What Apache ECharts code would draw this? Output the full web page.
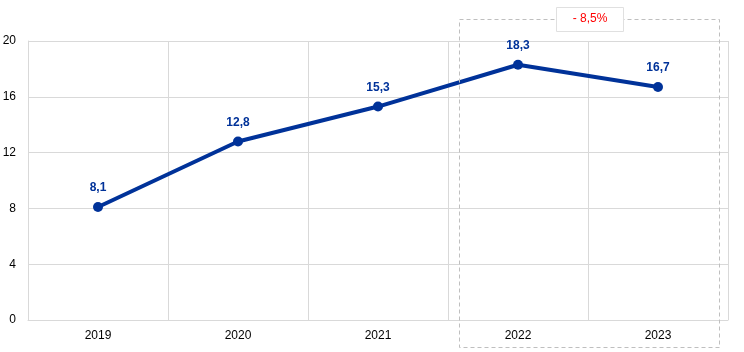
<!DOCTYPE html>
<html>
<head>
<meta charset="utf-8">
<script src="https://cdn.jsdelivr.net/npm/echarts@6/dist/echarts.min.js"></script>
<style>
  html, body { margin: 0; padding: 0; background: #fff; }
  #chart { width: 744px; height: 352px; }
</style>
</head>
<body>
<div id="chart"></div>
<script>
var years = ['2019', '2020', '2021', '2022', '2023'];
var values = [8.1, 12.8, 15.3, 18.3, 16.7];
var yTicks = [0, 4, 8, 12, 16, 20];
var changeLabel = '- 8,5%';
var boxFrom = '2022';
var boxTo = '2023';

var myChart = echarts.init(document.getElementById('chart'));

var option = {
    animation: false,
    grid: {
        left: 28,
        right: 16,
        top: 41,
        bottom: 32,
        containLabel: false,
        outerBoundsMode: 'none'
    },
    xAxis: {
        type: 'category',
        data: years,
        boundaryGap: true,
        axisLine: { lineStyle: { color: '#d9d9d9', width: 1 } },
        axisTick: { show: false },
        axisLabel: {
            color: '#000',
            fontFamily: 'Liberation Sans, Arial, sans-serif',
            fontSize: 12,
            margin: 10
        },
        splitLine: { show: true, lineStyle: { color: '#d9d9d9' } }
    },
    yAxis: {
        type: 'value',
        min: yTicks[0],
        max: yTicks[yTicks.length - 1],
        interval: 4,
        axisLine: { show: true, lineStyle: { color: '#d9d9d9' } },
        axisTick: { show: false },
        axisLabel: {
            color: '#000',
            fontFamily: 'Liberation Sans, Arial, sans-serif',
            fontSize: 12,
            margin: 12
        },
        splitLine: { lineStyle: { color: '#d9d9d9' } }
    },
    series: [
        {
            type: 'line',
            data: values,
            symbol: 'circle',
            symbolSize: 10,
            lineStyle: { color: '#003299', width: 4 },
            itemStyle: { color: '#003299' },
            label: {
                show: true,
                position: 'top',
                distance: 8,
                color: '#003299',
                fontWeight: 'bold',
                fontFamily: 'Liberation Sans, Arial, sans-serif',
                fontSize: 12,
                formatter: function (p) {
                    return p.value.toFixed(1).replace('.', ',');
                }
            }
        }
    ]
};

myChart.setOption(option);

// dashed box round the last two years, with the change label on top
var x1 = myChart.convertToPixel({ xAxisIndex: 0 }, boxFrom);
var x2 = myChart.convertToPixel({ xAxisIndex: 0 }, boxTo);
var yTop = myChart.convertToPixel({ yAxisIndex: 0 }, yTicks[yTicks.length - 1]);
var yBot = myChart.convertToPixel({ yAxisIndex: 0 }, yTicks[0]);
var left = x1 - 59, right = x2 + 61;
var mid = (left + right) / 2;

myChart.setOption({
    graphic: [
        {
            type: 'rect',
            shape: { x: left + 0.5, y: yTop - 22 + 0.5, width: right - left, height: yBot - yTop + 49 },
            style: { fill: 'none', stroke: '#bfbfbf', lineWidth: 1, lineDash: [4, 3] },
            z: 10
        },
        {
            type: 'rect',
            shape: { x: mid - 33 + 0.5, y: yTop - 34 + 0.5, width: 67, height: 24 },
            style: { fill: '#fff', stroke: '#e0e0e0', lineWidth: 1 },
            z: 11
        },
        {
            type: 'text',
            x: mid + 1,
            y: yTop - 22,
            style: {
                text: changeLabel,
                fill: '#ff0000',
                fontSize: 12,
                fontFamily: 'Liberation Sans, Arial, sans-serif',
                textAlign: 'center',
                textVerticalAlign: 'middle'
            },
            z: 12
        }
    ]
});
</script>
</body>
</html>
